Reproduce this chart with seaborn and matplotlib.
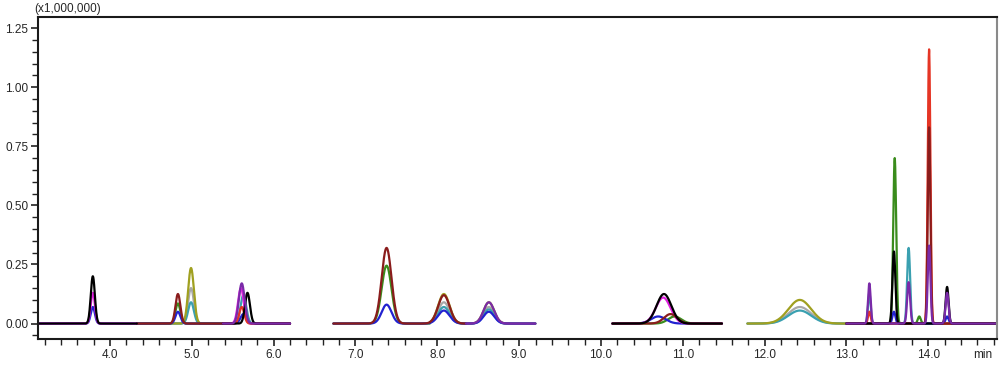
import numpy as np
import pandas as pd
import matplotlib
matplotlib.use("Agg")
import matplotlib.pyplot as plt
import seaborn as sns
from matplotlib.ticker import MultipleLocator, FormatStrFormatter

sns.set_style("white")
plt.rcParams['font.family'] = ['Liberation Sans', 'DejaVu Sans']

# acquisition windows (min)
windows = [(3.12, 4.33), (4.33, 5.38), (5.38, 6.20), (6.73, 7.91), (7.91, 8.35),
           (8.35, 9.20), (10.14, 11.48), (11.79, 13.00), (13.00, 14.84)]

# peak tables per trace: retention time (min), height (x1,000,000), width sigma (min)
trace_colors = {
    "gray": "#a8a8a8", "teal": "#3aa0b0", "olive": "#a0a020", "green": "#3a8c1c",
    "blue": "#2222d0", "magenta": "#e020e0", "red": "#e53525", "darkred": "#8a1c1c",
    "black": "#000000", "purple": "#7a2aa8",
}
gray_rt = [4.99, 8.08, 8.63, 12.43]
gray_h = [0.15, 0.09, 0.07, 0.07]
gray_w = [0.035, 0.07, 0.065, 0.14]
teal_rt = [4.99, 5.63, 8.08, 8.63, 12.43, 13.28, 13.76]
teal_h = [0.09, 0.12, 0.07, 0.06, 0.055, 0.13, 0.32]
teal_w = [0.035, 0.035, 0.07, 0.065, 0.14, 0.016, 0.018]
olive_rt = [4.99, 8.08, 8.63, 12.43]
olive_h = [0.235, 0.125, 0.09, 0.10]
olive_w = [0.035, 0.07, 0.065, 0.14]
green_rt = [4.83, 7.38, 10.90, 13.59, 13.89]
green_h = [0.085, 0.245, 0.03, 0.70, 0.03]
green_w = [0.03, 0.06, 0.08, 0.018, 0.018]
blue_rt = [3.79, 4.83, 5.63, 7.38, 8.08, 8.63, 10.70, 13.58, 14.23]
blue_h = [0.07, 0.05, 0.04, 0.08, 0.055, 0.05, 0.03, 0.05, 0.03]
blue_w = [0.025, 0.03, 0.035, 0.06, 0.07, 0.065, 0.09, 0.018, 0.018]
magenta_rt = [3.79, 5.60, 10.76]
magenta_h = [0.13, 0.15, 0.11]
magenta_w = [0.025, 0.035, 0.09]
red_rt = [5.61, 13.28, 14.01]
red_h = [0.07, 0.05, 1.16]
red_w = [0.03, 0.016, 0.016]
darkred_rt = [4.83, 7.38, 8.08, 10.85, 14.01]
darkred_h = [0.125, 0.32, 0.12, 0.04, 0.83]
darkred_w = [0.03, 0.06, 0.07, 0.08, 0.016]
black_rt = [3.79, 5.68, 10.77, 13.58, 14.23]
black_h = [0.20, 0.13, 0.125, 0.305, 0.155]
black_w = [0.025, 0.03, 0.09, 0.018, 0.018]
purple_rt = [5.61, 8.63, 13.28, 13.76, 14.01, 14.23]
purple_h = [0.17, 0.09, 0.17, 0.175, 0.33, 0.13]
purple_w = [0.035, 0.065, 0.016, 0.018, 0.016, 0.018]

peak_tables = {
    "gray": (gray_rt, gray_h, gray_w), "teal": (teal_rt, teal_h, teal_w),
    "olive": (olive_rt, olive_h, olive_w), "green": (green_rt, green_h, green_w),
    "blue": (blue_rt, blue_h, blue_w), "magenta": (magenta_rt, magenta_h, magenta_w),
    "red": (red_rt, red_h, red_w), "darkred": (darkred_rt, darkred_h, darkred_w),
    "black": (black_rt, black_h, black_w), "purple": (purple_rt, purple_h, purple_w),
}

rows = []
for name, (rts, hs, ws) in peak_tables.items():
    for wi, (a, b) in enumerate(windows):
        if not any(a <= r < b for r in rts):
            continue
        t = np.arange(a, b, 0.002)
        y = np.zeros_like(t)
        for r, h, s in zip(rts, hs, ws):
            y += h * np.exp(-0.5 * ((t - r) / s) ** 2)
        rows.append(pd.DataFrame({"time": t, "intensity": y, "trace": name, "seg": wi}))
df = pd.concat(rows, ignore_index=True)

fig = plt.figure(figsize=(10, 3.66), dpi=100)
ax = fig.add_axes([0.038, 0.074, 0.959, 0.8796])

sns.lineplot(data=df, x="time", y="intensity", hue="trace", units="seg",
             estimator=None, sort=False, palette=trace_colors,
             hue_order=list(peak_tables.keys()), legend=False, lw=1.6, ax=ax)

ax.set_xlim(3.12, 14.84)
ax.set_ylim(-0.065, 1.297)
ax.set_xlabel("")
ax.set_ylabel("")
ax.xaxis.set_major_locator(MultipleLocator(1.0))
ax.xaxis.set_minor_locator(MultipleLocator(0.2))
ax.xaxis.set_major_formatter(FormatStrFormatter("%.1f"))
ax.yaxis.set_major_locator(MultipleLocator(0.25))
ax.yaxis.set_minor_locator(MultipleLocator(0.05))
ax.yaxis.set_major_formatter(FormatStrFormatter("%.2f"))
ax.set_xticks([v for v in np.arange(4.0, 14.5, 1.0)])
ax.set_yticks([0.0, 0.25, 0.5, 0.75, 1.0, 1.25])
ax.tick_params(axis="both", which="major", direction="out", length=5, width=1.2,
               labelsize=8.5, color="#222222", pad=2)
ax.tick_params(axis="both", which="minor", direction="out", length=4, width=1.0,
               color="#222222")
ax.tick_params(axis="x", which="both", bottom=True)
ax.tick_params(axis="y", which="both", left=True)

for side in ["left", "bottom", "top"]:
    ax.spines[side].set_color("#1a1a1a")
    ax.spines[side].set_linewidth(1.5)
ax.spines["right"].set_color("#8a8a8a")
ax.spines["right"].set_linewidth(1.5)

fig.text(0.034, 0.975, "(x1,000,000)", fontsize=8.5, ha="left", va="center")
ax.annotate("min", xy=(0.985, 0), xycoords="axes fraction", xytext=(0, -7),
            textcoords="offset points", fontsize=8.5, ha="center", va="top")

fig.savefig("out.png", dpi=100)
